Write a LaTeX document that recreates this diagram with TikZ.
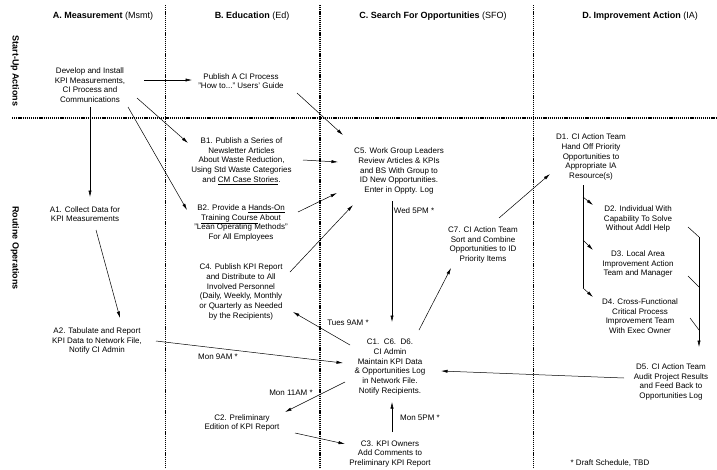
\documentclass[tikz,border=0pt]{standalone}
\usepackage{fontspec}
\setmainfont{Liberation Sans}
\usepackage{tikz}
\usetikzlibrary{arrows.meta}

\begin{document}
\begin{tikzpicture}[x=1pt,y=-1pt]
		\tikzstyle{Box}=[align=center,inner sep=1pt,font=\fontsize{8}{9.7}\selectfont]
		\tikzstyle{Head}=[inner sep=1pt,font=\fontsize{9}{11}\selectfont]
		\tikzstyle{Side}=[inner sep=1pt,rotate=-90,font=\fontsize{9}{11}\selectfont\bfseries]
		\tikzstyle{Tag}=[inner sep=1pt,font=\fontsize{8}{9.7}\selectfont]
		\tikzstyle{Lane}=[dash pattern=on 1.2pt off 0.9pt,line width=1.2pt]
		\tikzstyle{Arc}=[line width=0.5pt,-{Latex[length=6.5pt,width=3.2pt]}]
		\useasboundingbox (0,0) rectangle (717,469);
		%\draw[solid] (0,0) rectangle (717,469);
		\draw[Lane] (165.5,5) -- (165.5,469);
		\draw[Lane] (320,5) -- (320,469);
		\draw[Lane] (533.5,5) -- (533.5,469);
		\draw[Lane] (12,118) -- (717,118);
		\node[Head] (hA) at (103,16) {\textbf{A. Measurement} (Msmt)};
		\node[Head] (hB) at (252,16) {\textbf{B. Education} (Ed)};
		\node[Head] (hC) at (433,16) {\textbf{C. Search For Opportunities} (SFO)};
		\node[Head] (hD) at (640,16) {\textbf{D. Improvement Action} (IA)};
		\node[Side] (start) at (15,71) {Start-Up Actions};
		\node[Side] (routine) at (15,248) {Routine Operations};
		\node[Box] (dev) at (90,85) {Develop and Install\\KPI Measurements,\\CI Process and\\Communications};
		\node[Box] (guide) at (241,81) {Publish A CI Process\\"How to..." Users' Guide};
		\node[Box] (B1) at (241.5,161) {B1. Publish a Series of\\Newsletter Articles\\About Waste Reduction,\\Using Std Waste Categories\\and \underline{CM Case Stories}.};
		\node[Box] (B2) at (241,223) {B2. Provide a \underline{Hands-On}\\\underline{Training Course} About\\"Lean Operating Methods"\\For All Employees};
		\node[Box] (C4) at (241,292) {C4. Publish KPI Report\\and Distribute to All\\Involved Personnel\\(Daily, Weekly, Monthly\\or Quarterly as Needed\\by the Recipients)};
		\node[Box] (A1) at (85,214) {A1. Collect Data for\\KPI Measurements};
		\node[Box] (A2) at (97,341) {A2. Tabulate and Report\\KPI Data to Network File,\\Notify CI Admin};
		\node[Box] (C5) at (399,171) {C5. Work Group Leaders\\Review Articles \& KPIs\\and BS With Group to\\ID New Opportunities.\\Enter in Oppty. Log};
		\node[Box] (C7) at (483,245) {C7. CI Action Team\\Sort and Combine\\Opportunities to ID\\Priority Items};
		\node[Box] (C1) at (390,367) {C1.\ \ C6.\ \ D6.\\CI Admin\\Maintain KPI Data\\\& Opportunities Log\\in Network File.\\Notify Recipients.};
		\node[Box] (C2) at (242,423) {C2. Preliminary\\Edition of KPI Report};
		\node[Box] (C3) at (390,454) {C3. KPI Owners\\Add Comments to\\Preliminary KPI Report};
		\node[Box] (D1) at (591,157) {D1. CI Action Team\\Hand Off Priority\\Opportunities to\\Appropriate IA\\Resource(s)};
		\node[Box] (D2) at (638,219) {D2. Individual With\\Capability To Solve\\Without Addl Help};
		\node[Box] (D3) at (638,264) {D3. Local Area\\Improvement Action\\Team and Manager};
		\node[Box] (D4) at (640,316) {D4. Cross-Functional\\Critical Process\\Improvement Team\\With Exec Owner};
		\node[Box] (D5) at (671,382) {D5. CI Action Team\\Audit Project Results\\and Feed Back to\\Opportunities Log};
		\node[Tag] (note) at (610,463) {* Draft Schedule, TBD};
		\node[Tag] (tWed) at (414,211) {Wed 5PM *};
		\node[Tag] (tTues) at (348,323) {Tues 9AM *};
		\node[Tag] (tMon9) at (218,357) {Mon 9AM *};
		\node[Tag] (tMon11) at (291,393) {Mon 11AM *};
		\node[Tag] (tMon5) at (420,418) {Mon 5PM *};
		\coordinate (m2) at (699,237);
		\coordinate (m3) at (699,287);
		\coordinate (m4) at (699,330);
		\draw[Arc] ([shift={(54,-5)}]dev.center) -- ([shift={(-49,-1)}]guide.center);
		\draw[Arc] ([shift={(0,22)}]dev.center) -- ([shift={(5,-17)}]A1.center);
		\draw[Arc] ([shift={(47,13)}]dev.center) -- ([shift={(-53.5,-18)}]B1.center);
		\draw[Arc] ([shift={(38,22)}]dev.center) -- ([shift={(-54,-13)}]B2.center);
		\draw[Arc] ([shift={(56,12)}]guide.center) -- ([shift={(-56,-36)}]C5.center);
		\draw[Arc] ([shift={(61.5,-1)}]B1.center) -- ([shift={(-61,-9)}]C5.center);
		\draw[Arc] ([shift={(57,-11)}]B2.center) -- ([shift={(-62,22)}]C5.center);
		\draw[Arc] ([shift={(49,-20)}]C4.center) -- ([shift={(-46,34)}]C5.center);
		\draw[Arc] ([shift={(-7,30)}]C5.center) -- ([shift={(2,-45)}]C1.center);
		\draw[Arc] ([shift={(29,-37)}]C1.center) -- ([shift={(-32,23)}]C7.center);
		\draw[Arc] ([shift={(16,-27)}]C7.center) -- ([shift={(-41,17)}]D1.center);
		\draw[Arc] ([shift={(-40,-22)}]C1.center) -- ([shift={(52,20)}]C4.center);
		\draw[Arc] ([shift={(11,16)}]A1.center) -- ([shift={(23,-23)}]A2.center);
		\draw[Arc] ([shift={(59,0)}]A2.center) -- ([shift={(-47,-4)}]C1.center);
		\draw[Arc] ([shift={(-45,15)}]C1.center) -- ([shift={(43,-11)}]C2.center);
		\draw[Arc] ([shift={(53,10)}]C2.center) -- ([shift={(-45,-10)}]C3.center);
		\draw[Arc] ([shift={(2,-22)}]C3.center) -- ([shift={(2,35)}]C1.center);
		\draw[Arc] ([shift={(-47,-4)}]D5.center) -- ([shift={(51,4)}]C1.center);
		\draw[line width=0.5pt] ([shift={(-8,28)}]D1.center) -- ([shift={(-8,131)}]D1.center);
		\draw[Arc] ([shift={(-8,40)}]D1.center) -- ([shift={(-45,-14)}]D2.center);
		\draw[Arc] ([shift={(-8,83)}]D1.center) -- ([shift={(-45,-14)}]D3.center);
		\draw[Arc] ([shift={(-8,131)}]D1.center) -- ([shift={(-47,-19)}]D4.center);
		\draw[line width=0.5pt] ([shift={(50,8)}]D2.center) -- (m2);
		\draw[line width=0.5pt] ([shift={(50,12)}]D3.center) -- (m3);
		\draw[line width=0.5pt] ([shift={(50,2)}]D4.center) -- (m4);
		\draw[Arc] (m2) -- ([shift={(28,-35)}]D5.center);
\end{tikzpicture}
\end{document}
